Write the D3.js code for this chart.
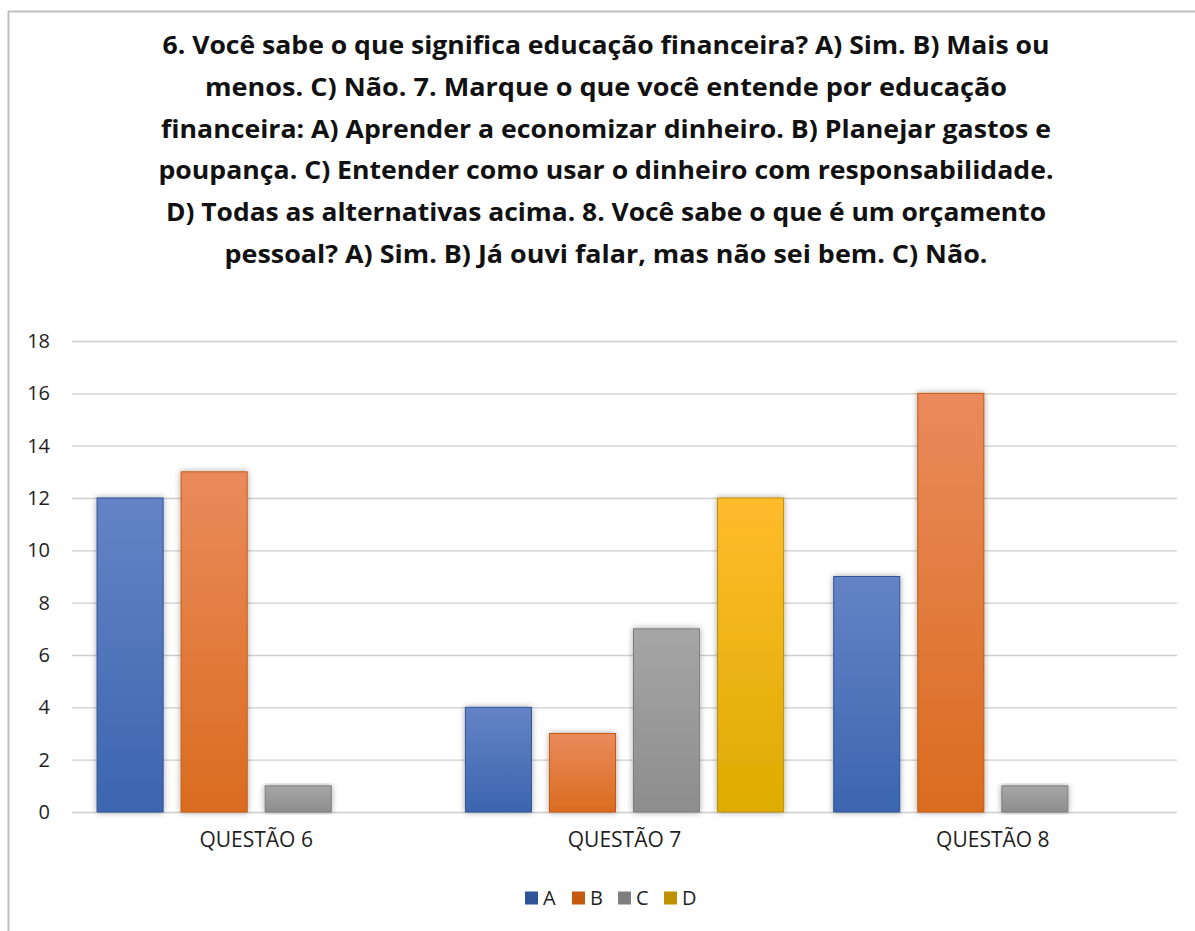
<!DOCTYPE html>
<html>
<head>
<meta charset="utf-8">
<script src="https://cdn.jsdelivr.net/npm/d3@7"></script>
<style>
  body { margin: 0; background: #fff; }
  svg { display: block; }
</style>
</head>
<body>
<div class="chart"></div>
<script>
var categories = ["QUESTÃO 6", "QUESTÃO 7", "QUESTÃO 8"],
    series = ["A", "B", "C", "D"],
    valuesA = [12, 4, 9],
    valuesB = [13, 3, 16],
    valuesC = [1, 7, 1],
    valuesD = [0, 12, 0],
    yTicks = [0, 2, 4, 6, 8, 10, 12, 14, 16, 18];

var titleLines = [
  "6. Você sabe o que significa educação financeira? A) Sim. B) Mais ou",
  "menos. C) Não. 7. Marque o que você entende por educação",
  "financeira: A) Aprender a economizar dinheiro. B) Planejar gastos e",
  "poupança. C) Entender como usar o dinheiro com responsabilidade.",
  "D) Todas as alternativas acima. 8. Você sabe o que é um orçamento",
  "pessoal? A) Sim. B) Já ouvi falar, mas não sei bem. C) Não."
];
// widths of each title line
var titleWidths = [887, 802, 890, 895, 880, 763];

var width = 1195, height = 931,
    plot = {left: 72, right: 1177, top: 341, bottom: 812};

var colors = {
  A: {top: "#6583C6", bottom: "#3B66AF", stroke: "#2E5597"},
  B: {top: "#EA8A5C", bottom: "#DA6C1F", stroke: "#C55A11"},
  C: {top: "#A6A6A6", bottom: "#8D8D8D", stroke: "#7F7F7F"},
  D: {top: "#FFBB2C", bottom: "#DDAC00", stroke: "#BF9000"}
};

var table = series.map(function(s, i) {
  var vals = [valuesA, valuesB, valuesC, valuesD][i];
  return categories.map(function(c, j) { return {series: s, cat: c, value: vals[j]}; });
});

var svg = d3.select("div.chart").append("svg")
    .attr("width", width)
    .attr("height", height);

var defs = svg.append("defs");
series.forEach(function(s) {
  var g = defs.append("linearGradient")
      .attr("id", "grad" + s)
      .attr("x1", 0).attr("y1", 0).attr("x2", 0).attr("y2", 1);
  g.append("stop").attr("offset", "0%").attr("stop-color", colors[s].top);
  g.append("stop").attr("offset", "100%").attr("stop-color", colors[s].bottom);
});
defs.append("filter")
    .attr("id", "shadow")
    .attr("x", "-30%").attr("y", "-10%").attr("width", "160%").attr("height", "120%")
  .append("feDropShadow")
    .attr("dx", 0).attr("dy", 0)
    .attr("stdDeviation", 3)
    .attr("flood-color", "#000")
    .attr("flood-opacity", 0.35);

// frame of the chart area
svg.append("line")
    .attr("x1", 8).attr("x2", width)
    .attr("y1", 11.5).attr("y2", 11.5)
    .attr("stroke", "#bfbfbf").attr("stroke-width", 2);
svg.append("line")
    .attr("x1", 8.5).attr("x2", 8.5)
    .attr("y1", 11).attr("y2", height)
    .attr("stroke", "#bfbfbf").attr("stroke-width", 2);

// title
svg.append("g")
    .attr("class", "title")
  .selectAll("text")
  .data(titleLines)
  .enter().append("text")
    .attr("x", 606)
    .attr("y", function(d, i) { return 54 + i * 41.8; })
    .attr("text-anchor", "middle")
    .attr("textLength", function(d, i) { return titleWidths[i]; })
    .attr("lengthAdjust", "spacingAndGlyphs")
    .style("font-family", "'Open Sans', sans-serif")
    .style("font-weight", "bold")
    .style("font-size", "25px")
    .style("fill", "#111")
    .text(function(d) { return d; });

var x = d3.scaleBand()
    .domain(categories)
    .range([plot.left, plot.right]);

var xInner = d3.scaleBand()
    .domain(series)
    .range([0, x.bandwidth()])
    .paddingInner(0.214)
    .paddingOuter(0.298);

var y = d3.scaleLinear()
    .domain([0, 18])
    .range([plot.bottom, plot.top]);

// gridlines + y labels
var yAxis = svg.append("g")
    .attr("class", "y axis")
    .attr("transform", "translate(" + plot.left + ",0)")
    .call(d3.axisLeft(y).tickValues(yTicks).tickSize(-(plot.right - plot.left)).tickPadding(22));
yAxis.select(".domain").remove();
yAxis.selectAll(".tick line")
    .attr("stroke", "#cfcfcf")
    .attr("stroke-width", 1.3);
yAxis.selectAll(".tick text")
    .style("font-family", "'Open Sans', sans-serif")
    .style("font-size", "20px")
    .style("fill", "#1f1f1f");

// bars
var groups = svg.append("g")
    .attr("class", "bars")
  .selectAll("g")
  .data(table)
  .enter().append("g");

groups.selectAll("rect")
  .data(function(d) { return d; })
  .enter().append("rect")
    .attr("x", function(d) { return x(d.cat) + xInner(d.series); })
    .attr("y", function(d) { return y(d.value); })
    .attr("width", xInner.bandwidth())
    .attr("height", function(d) { return y(0) - y(d.value); })
    .attr("fill", function(d) { return "url(#grad" + d.series + ")"; })
    .attr("stroke", function(d) { return d.value > 0 ? colors[d.series].stroke : "none"; })
    .attr("stroke-width", 1)
    .attr("filter", function(d) { return d.value > 0 ? "url(#shadow)" : null; });

// x labels
var xAxis = svg.append("g")
    .attr("class", "x axis")
    .attr("transform", "translate(0," + plot.bottom + ")")
    .call(d3.axisBottom(x).tickSize(0).tickPadding(20));
xAxis.select(".domain").remove();
xAxis.selectAll(".tick text")
    .style("font-family", "'Open Sans', sans-serif")
    .style("font-size", "21px")
    .style("fill", "#1f1f1f");

// legend
var legendX = [525, 572, 618, 664];
var legend = svg.append("g")
    .attr("class", "legend")
  .selectAll("g")
  .data(series)
  .enter().append("g")
    .attr("transform", function(d, i) { return "translate(" + legendX[i] + ",898)"; });

legend.append("rect")
    .attr("x", 0)
    .attr("y", -6.5)
    .attr("width", 13)
    .attr("height", 13)
    .attr("fill", function(d) { return colors[d].stroke; });

legend.append("text")
    .attr("x", 18)
    .attr("y", 7)
    .style("font-family", "'Open Sans', sans-serif")
    .style("font-size", "20px")
    .style("fill", "#1f1f1f")
    .text(function(d) { return d; });
</script>
</body>
</html>
